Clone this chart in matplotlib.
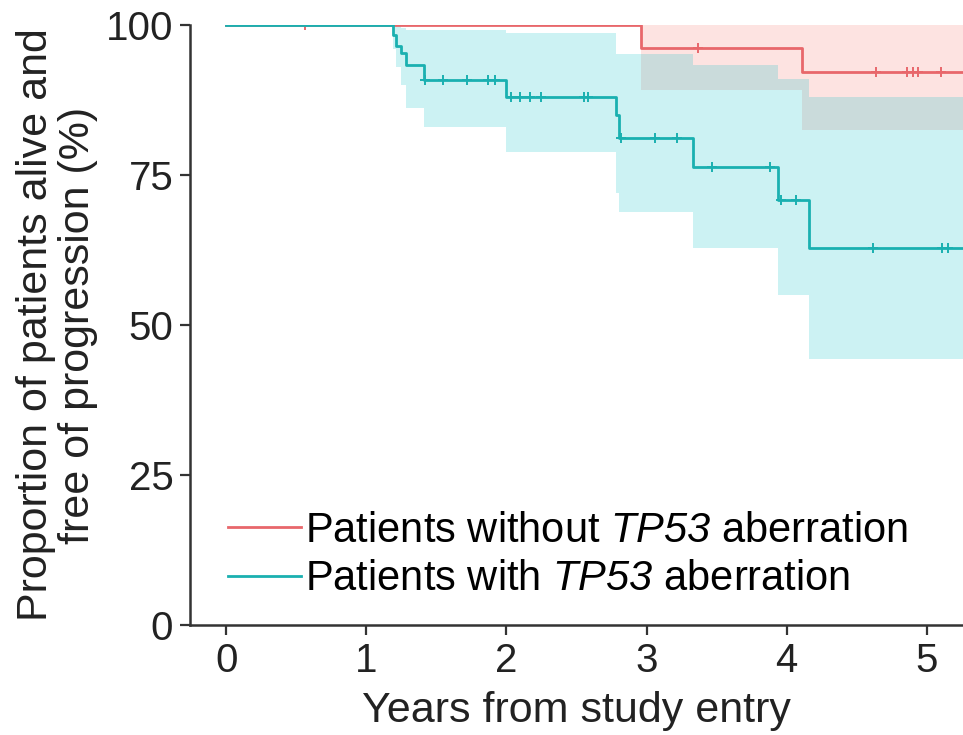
import numpy as np
import matplotlib
matplotlib.use("Agg")
import matplotlib.pyplot as plt

plt.rcParams["font.family"] = ["Liberation Sans", "DejaVu Sans"]
plt.rcParams["mathtext.fontset"] = "custom"
plt.rcParams["mathtext.rm"] = "Liberation Sans:italic"
plt.rcParams["mathtext.it"] = "Liberation Sans:italic"

# --- data (years, %) ---
# patients without TP53 aberration
no_t = [0, 2.96, 4.11, 5.4]
no_s = [100, 96.2, 92.2, 92.2]
no_hi = [100, 100, 100, 100]
no_lo = [100, 89.2, 82.5, 82.5]
no_cens_t = [0.56, 3.37, 4.64, 4.86, 4.90, 4.94, 5.10]
no_cens_s = [100, 96.2, 92.2, 92.2, 92.2, 92.2, 92.2]

# patients with TP53 aberration
tp_t = [0, 1.19, 1.21, 1.25, 1.28, 1.41, 2.00, 2.78, 2.80, 3.33, 3.94, 4.16, 5.4]
tp_s = [100, 98.3, 96.5, 95.3, 93.3, 90.9, 88.0, 85.0, 81.1, 76.4, 70.8, 62.8, 62.8]
tp_hi = [100, 100, 100, 99.5, 99.2, 99.2, 98.6, 95.2, 95.2, 93.3, 91.0, 88.0, 88.0]
tp_lo = [100, 96.0, 93.0, 90.0, 86.1, 83.0, 78.9, 72.0, 68.9, 62.8, 55.0, 44.4, 44.4]
tp_cens_t = [1.42, 1.55, 1.72, 1.87, 1.92, 2.03, 2.10, 2.17, 2.25, 2.55, 2.58,
             2.82, 3.06, 3.22, 3.47, 3.88, 3.96, 4.07, 4.62, 5.11, 5.15]
tp_cens_s = [90.9] * 5 + [88.0] * 6 + [81.1] * 3 + [76.4] * 2 + [70.8] * 2 + [62.8] * 3

labels = [r"Patients without $TP53$ aberration",
          r"Patients with $TP53$ aberration"]
red, teal = "#F8766D", "#00BFC4"
red_line, teal_line = "#E8676B", "#1AB0B0"

fig = plt.figure(figsize=(9.63, 7.35), dpi=100)
ax = fig.add_axes([190 / 963, 110 / 735, 773 / 963, 600 / 735])

for t, s, hi, lo, ct, cs, fc, lc, lab in [
        (no_t, no_s, no_hi, no_lo, no_cens_t, no_cens_s, red, red_line, labels[0]),
        (tp_t, tp_s, tp_hi, tp_lo, tp_cens_t, tp_cens_s, teal, teal_line, labels[1])]:
    ax.fill_between(t, lo, hi, step="post", color=fc, alpha=0.2, lw=0)
    ax.step(t, s, where="post", color=lc, lw=2, label=lab)
    ax.plot(ct, cs, ls="none", marker="+", ms=7, mew=1.4, color=lc)

ax.set_xlim(-0.26, 5.26)
ax.set_ylim(0, 100)
ax.set_xticks(range(6))
ax.set_yticks([0, 25, 50, 75, 100])
for side in ["top", "right"]:
    ax.spines[side].set_visible(False)
for side in ["left", "bottom"]:
    ax.spines[side].set_linewidth(1.8)
    ax.spines[side].set_color("#333333")
ax.tick_params(labelsize=29, length=7, width=1.6, color="#333333",
               labelcolor="#222222", pad=5)

ax.set_xlabel("Years from study entry", fontsize=31, color="#222222", labelpad=8)
ax.set_ylabel("Proportion of patients alive and\nfree of progression (%)",
              fontsize=31, color="#222222", labelpad=6, linespacing=1.05)

ax.legend(loc="upper left", bbox_to_anchor=(0.049, 0.19), frameon=False,
          fontsize=30, handlelength=1.75, handletextpad=0.1, labelspacing=0.2,
          borderpad=0, borderaxespad=0)

fig.savefig("out.png", dpi=100)
